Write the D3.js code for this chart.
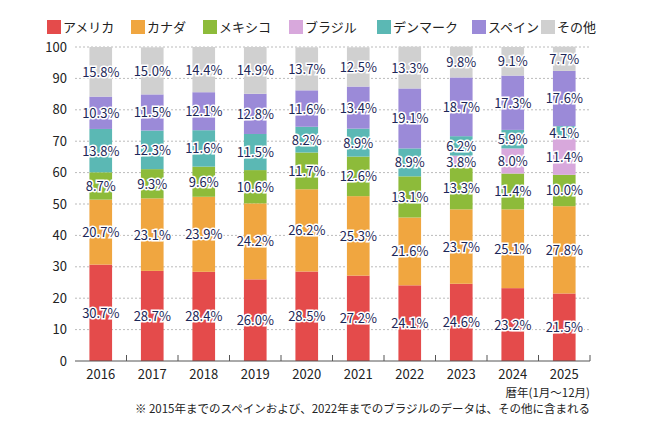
<!DOCTYPE html><html><head><meta charset="utf-8"><script src="https://cdn.jsdelivr.net/npm/d3@7"></script>
<style>body{margin:0;background:#fff}text{font-family:"Noto Sans CJK JP","Noto Sans",sans-serif}</style></head><body>
<svg id="c" width="650" height="440"></svg>
<script>
const years=["2016","2017","2018","2019","2020","2021","2022","2023","2024","2025"];
const seriesNames=["アメリカ","カナダ","メキシコ","ブラジル","デンマーク","スペイン","その他"];
const colors=["#e44b4b","#f0a640","#8dbb3a","#d8a8dc","#5bb8b4","#9b8ad8","#d0d0d0"];
const america=[30.7,28.7,28.4,26.0,28.5,27.2,24.1,24.6,23.2,21.5];
const canada=[20.7,23.1,23.9,24.2,26.2,25.3,21.6,23.7,25.1,27.8];
const mexico=[8.7,9.3,9.6,10.6,11.7,12.6,13.1,13.3,11.4,10.0];
const brazil=[0,0,0,0,0,0,0,3.8,8.0,11.4];
const denmark=[13.8,12.3,11.6,11.5,8.2,8.9,8.9,6.2,5.9,4.1];
const spain=[10.3,11.5,12.1,12.8,11.6,13.4,19.1,18.7,17.3,17.6];
const other=[15.8,15.0,14.4,14.9,13.7,12.5,13.3,9.8,9.1,7.7];
const yTicks=[0,10,20,30,40,50,60,70,80,90,100];
const all=[america,canada,mexico,brazil,denmark,spain,other];
const rows=years.map((y,i)=>{const o={year:y};seriesNames.forEach((s,j)=>o[s]=all[j][i]);return o;});
const svg=d3.select("#c");
const x=d3.scaleBand().domain(years).range([75,590]).paddingInner(0.56).paddingOuter(0.28);
const y=d3.scaleLinear().domain([0,100]).range([361,47]);
const g=svg.append("g");
yTicks.forEach(t=>{if(t>0)g.append("line").attr("x1",75).attr("x2",590).attr("y1",y(t)).attr("y2",y(t)).attr("stroke","#bbb").attr("stroke-dasharray","2,2");});
svg.append("g").attr("transform","translate(75,0)").call(d3.axisLeft(y).tickValues(yTicks).tickSize(0).tickPadding(8)).call(a=>a.select(".domain").remove()).selectAll("text").attr("font-size",13).attr("fill","#222");
const stack=d3.stack().keys(seriesNames)(rows);
stack.forEach((s,j)=>{
 svg.append("g").selectAll("rect").data(s).join("rect").attr("x",d=>x(d.data.year)).attr("width",x.bandwidth()).attr("y",d=>y(d[1])).attr("height",d=>Math.max(0,y(d[0])-y(d[1]))).attr("fill",colors[j]);
});
stack.forEach((s,j)=>{
 svg.append("g").selectAll("text").data(s.filter(d=>d[1]-d[0]>0)).join("text").attr("x",d=>x(d.data.year)+x.bandwidth()/2).attr("y",d=>y((d[0]+d[1])/2)+5).attr("text-anchor","middle").attr("font-size",13).attr("fill","#1c2758").attr("stroke","#fff").attr("stroke-width",3).attr("paint-order","stroke").text(d=>(d[1]-d[0]).toFixed(1)+"%");
});
const xa=svg.append("g").attr("transform","translate(0,361)");
xa.append("line").attr("x1",75).attr("x2",590).attr("stroke","#555");
const step=x.step();
years.forEach((yr,i)=>{const cx=x(yr)+x.bandwidth()/2;
 xa.append("line").attr("x1",cx+step/2).attr("x2",cx+step/2).attr("y1",0).attr("y2",-6).attr("stroke","#555");
 xa.append("text").attr("x",cx).attr("y",18).attr("text-anchor","middle").attr("font-size",13).attr("fill","#222").text(yr);});
const lx=[47,131,203,289,377,472,541];
seriesNames.forEach((s,j)=>{svg.append("rect").attr("x",lx[j]).attr("y",20).attr("width",14).attr("height",14).attr("fill",colors[j]);
 svg.append("text").attr("x",lx[j]+16).attr("y",32).attr("font-size",13).attr("fill","#222").text(s);});
svg.append("text").attr("x",590).attr("y",397).attr("text-anchor","end").attr("font-size",11.5).attr("fill","#222").text("暦年(1月〜12月)");
svg.append("text").attr("x",590).attr("y",413).attr("text-anchor","end").attr("font-size",11.5).attr("fill","#222").text("※ 2015年までのスペインおよび、2022年までのブラジルのデータは、その他に含まれる");
</script></body></html>
